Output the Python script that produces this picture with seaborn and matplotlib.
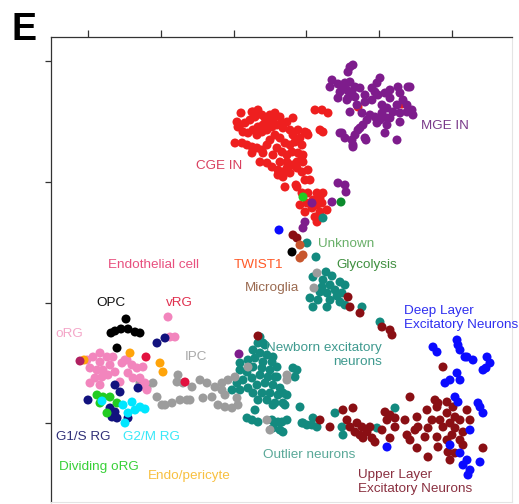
import matplotlib
matplotlib.use("Agg")
import matplotlib.pyplot as plt
import seaborn as sns
import pandas as pd

# ---- data (t-SNE coordinates, arbitrary units; y axis runs downward) ----
cge_in = [(252,112),(258,110),(262,115),(255,117),(250,120),(237,122),(240,125),(245,123),(265,118),(270,115),
          (275,113),(280,117),(273,120),(268,123),(263,125),(258,127),(253,130),(248,133),(243,132),(238,127),
          (257,135),(262,132),(267,130),(272,127),(277,125),(282,123),(287,122),(293,118),(283,128),(290,130),
          (293,135),(298,130),(305,132),(308,135),(300,138),(295,142),(290,145),(285,143),(280,138),(275,135),
          (270,140),(267,145),(262,150),(263,153),(257,148),(252,147),(252,153),(247,145),(242,143),(235,143),
          (277,148),(282,152),(287,155),(292,152),(298,153),(302,157),(297,162),(292,165),(287,168),(283,172),
          (278,170),(272,167),(267,163),(260,162),(273,155),(280,162),(287,162),(297,168),(290,173),(283,177),
          (278,175),(308,170),(305,180),(297,187),(285,187),(320,130),(315,110),(322,110),(328,113),(307,133),
          (323,132),(302,145),(303,155),(303,162),(302,172),(310,180),(358,107),(402,104),(253,112),(241,113),
          (302,193),(308,193),(317,193),(323,193),(300,205),(307,203),(312,208),(317,205),(322,203),(327,210),
          (320,212),(305,212),(315,217),(317,222),(313,200),(320,198),(296,185)]
mge_in = [(350,67),(353,65),(348,72),(332,80),(330,87),(338,84),(343,87),(350,82),(355,87),(340,92),
          (347,90),(338,98),(348,98),(355,97),(365,95),(375,92),(380,78),(377,83),(378,95),(372,100),
          (365,102),(357,105),(350,112),(370,115),(367,120),(363,125),(358,130),(355,135),(352,140),(353,145),
          (345,138),(340,133),(365,138),(385,133),(397,140),(382,105),(387,108),(380,120),(387,118),(390,98),
          (390,90),(398,87),(400,93),(408,87),(403,100),(407,105),(412,110),(413,115),(407,112),(400,113),
          (393,112),(390,118),(400,122),(387,125),(377,123),(375,117),(382,113),(397,105),(385,93),(372,88),
          (360,88),(345,83),(347,100),(352,92),(366,140),(353,147),(342,133),(360,128),(410,87),(362,113),
          (338,183),(345,185),(346,192),(332,202),(312,203),(305,222),(303,228),(239,354)]
teal_glyco = [(313,277),(323,280),(332,276),(340,282),(345,285),(330,285),(322,287),(335,290),(342,293),(327,293),
              (320,292),(310,298),(330,300),(340,302),(345,305),(313,307),(327,307),(362,307),(380,322),(323,218),
              (307,243),(316,257),(326,272),(337,296),(318,300)]
newborn = [(258,343),(265,345),(253,350),(260,353),(267,355),(272,362),(263,362),(255,358),(248,360),(240,363),
           (240,370),(247,372),(253,367),(262,368),(270,370),(277,367),(277,377),(268,377),(260,375),(252,378),
           (243,380),(237,383),(232,390),(240,390),(248,388),(257,385),(265,383),(273,385),(280,388),(287,395),
           (278,395),(270,393),(262,393),(253,393),(258,400),(267,400),(275,403),(283,403),(255,410),(247,418),
           (252,420),(258,422),(272,420),(278,422),(287,420),(273,428),(280,430),(297,370),(295,377),(300,407),
           (302,423),(307,425),(260,337),(263,343),(273,357),(275,377),(293,368),(283,393),(273,405),(285,405),
           (282,422),(283,432),(313,418),(303,423),(312,425),(335,413),(343,435),(395,408),(317,427),(342,427),
           (377,428)]
ipc = [(178,375),(183,383),(192,387),(200,380),(207,383),(215,387),(222,383),(228,380),(235,377),(222,390),
       (225,395),(212,397),(203,398),(218,405),(225,407),(232,408),(238,405),(237,398),(162,405),(172,403),
       (180,400),(190,400),(248,367),(267,420),(270,430),(287,380),(153,383),(140,383),(147,388),(157,397),
       (165,405),(177,382),(317,273),(314,288),(287,375),(187,400)]
upper_layer = [(382,327),(390,330),(443,367),(410,397),(435,400),(343,410),(353,408),(320,420),(330,427),(347,420),
               (350,427),(357,423),(362,427),(355,432),(360,435),(367,432),(370,427),(363,438),(372,438),(375,442),
               (382,430),(385,412),(390,415),(395,418),(387,420),(395,427),(390,438),(405,420),(407,435),(410,440),
               (417,417),(418,427),(415,430),(427,410),(437,407),(432,420),(428,428),(425,437),(437,437),(440,420),
               (447,413),(443,427),(450,423),(455,428),(452,435),(447,440),(438,447),(428,457),(417,448),(460,420),
               (463,432),(470,420),(453,407),(455,417),(448,452),(455,453),(450,460),(460,440),(463,445),(467,410),
               (483,448),(447,402),(438,403),(348,297),(350,307),(360,313),(392,335),(293,235),(297,238),(258,336)]
deep_layer = [(433,347),(437,352),(457,340),(460,350),(467,357),(473,360),(487,357),(490,363),(483,370),(457,373),
              (450,380),(445,383),(460,380),(455,397),(458,402),(478,403),(480,407),(483,413),(470,430),(387,447),
              (450,445),(460,453),(467,460),(463,465),(470,470),(480,462),(468,475),(458,345),(465,357),(486,368),
              (279,230)]
org = [(168,317),(170,337),(175,337),(87,360),(93,357),(100,362),(107,357),(110,365),(103,370),(97,370),
       (90,368),(95,378),(102,377),(108,375),(115,372),(122,363),(127,360),(132,365),(137,368),(143,367),
       (128,373),(133,378),(140,378),(145,383),(140,387),(147,390),(90,383),(100,385),(120,382),(100,353),
       (113,357),(125,360)]
opc = [(126,319),(115,331),(121,329),(128,329),(135,332),(140,333),(111,333),(117,348),(292,252)]
g1s_rg = [(157,343),(165,338),(115,385),(88,400),(120,392),(110,408),(115,412),(112,417),(117,418),(128,418),(138,388)]
dividing_org = [(97,395),(103,397),(110,397),(100,403),(117,403),(107,413),(303,197)]
g2m_rg = [(102,401),(123,405),(132,402),(135,410),(140,407),(145,409),(128,413),(125,423)]
endo_pericyte = [(84,360),(130,353),(160,363),(163,372)]
vrg = [(146,357),(185,382)]
twist1 = [(300,245),(303,255),(300,258)]
glycolysis = [(341,202)]
endothelial = [(80,361)]

clusters = {
    "CGE IN": cge_in, "MGE IN": mge_in, "Glycolysis teal": teal_glyco, "Newborn": newborn,
    "IPC": ipc, "Upper Layer": upper_layer, "Deep Layer": deep_layer, "oRG": org, "OPC": opc,
    "G1/S RG": g1s_rg, "Dividing oRG": dividing_org, "G2/M RG": g2m_rg, "Endo/pericyte": endo_pericyte,
    "vRG": vrg, "TWIST1": twist1, "Glycolysis": glycolysis, "Endothelial": endothelial,
}
palette = {
    "CGE IN": "#ee1f1f", "MGE IN": "#7e1c8c", "Glycolysis teal": "#138a7f", "Newborn": "#138a7f",
    "IPC": "#9c9c9c", "Upper Layer": "#8a0f14", "Deep Layer": "#0b0bff", "oRG": "#f285bd", "OPC": "#000000",
    "G1/S RG": "#12127e", "Dividing oRG": "#22cc22", "G2/M RG": "#00e6ff", "Endo/pericyte": "#ffa40a",
    "vRG": "#e2123f", "TWIST1": "#c8562e", "Glycolysis": "#0b8a2c", "Endothelial": "#b02060",
}

labels = ["CGE IN", "MGE IN", "Unknown", "TWIST1", "Glycolysis", "Microglia", "Endothelial cell", "OPC", "vRG",
          "oRG", "IPC", "Newborn excitatory\nneurons", "Deep Layer\nExcitatory Neurons", "G1/S RG", "G2/M RG",
          "Dividing oRG", "Endo/pericyte", "Outlier neurons", "Upper Layer\nExcitatory Neurons"]
label_x = [196, 421, 318, 234, 336, 245, 108, 96, 166, 55, 185, 382, 404, 56, 123, 59, 148, 263, 358]
label_y = [166, 126, 244, 265, 265, 288, 265, 303, 303, 334, 357, 355, 318, 437, 437, 467, 476, 455, 482]
label_colors = ["#d9405f", "#7a3a8a", "#6ab06a", "#ff5a28", "#3f8f3f", "#9a6a50", "#e8507f", "#111111", "#e0304f",
                "#f4a6c8", "#a8a8a8", "#3f9a8f", "#2f2ff0", "#303078", "#38e8f8", "#38d038", "#f8c040", "#5aa898",
                "#8a3040"]

rows = []
for name, pts in clusters.items():
    for (a, b) in pts:
        rows.append({"x": a, "y": b, "cluster": name})
df = pd.DataFrame(rows)

sns.set_style("white")
plt.rcParams["font.family"] = ["Liberation Sans", "DejaVu Sans"]

fig = plt.figure(figsize=(5.19, 5.04), dpi=100)
ax = fig.add_axes([51/519, 2/504, 461/519, 465/504])

sns.scatterplot(data=df, x="x", y="y", hue="cluster", palette=palette, s=42, linewidth=0,
                legend=False, ax=ax)

ax.set_xlim(51, 512)
ax.set_ylim(502, 37)
ax.set_xticks([88, 161, 234, 306, 379, 452])
ax.set_yticks([61, 182, 303, 423])
ax.xaxis.set_ticks_position("top")
ax.tick_params(axis="x", top=True, bottom=False, labeltop=False, labelbottom=False,
               direction="out", length=5, width=0.9, color="#333333")
ax.tick_params(axis="y", left=True, right=False, labelleft=False, labelright=False,
               direction="out", length=4, width=0.9, color="#333333")
ax.set_xlabel("")
ax.set_ylabel("")
for side in ["top", "left"]:
    ax.spines[side].set_color("#333333")
    ax.spines[side].set_linewidth(0.9)
for side in ["right", "bottom"]:
    ax.spines[side].set_color("#e4e4e4")
    ax.spines[side].set_linewidth(0.8)

for txt, tx, ty, c in zip(labels, label_x, label_y, label_colors):
    ha = "right" if txt.startswith("Newborn") else "left"
    ax.text(tx, ty, txt, color=c, fontsize=9.7, ha=ha, va="center", multialignment=ha,
            linespacing=1.15)

fig.text(12/519, 1 - 40/504, "E", fontsize=27, fontweight="bold", color="black",
         ha="left", va="baseline")

fig.savefig("out.png", dpi=100)
